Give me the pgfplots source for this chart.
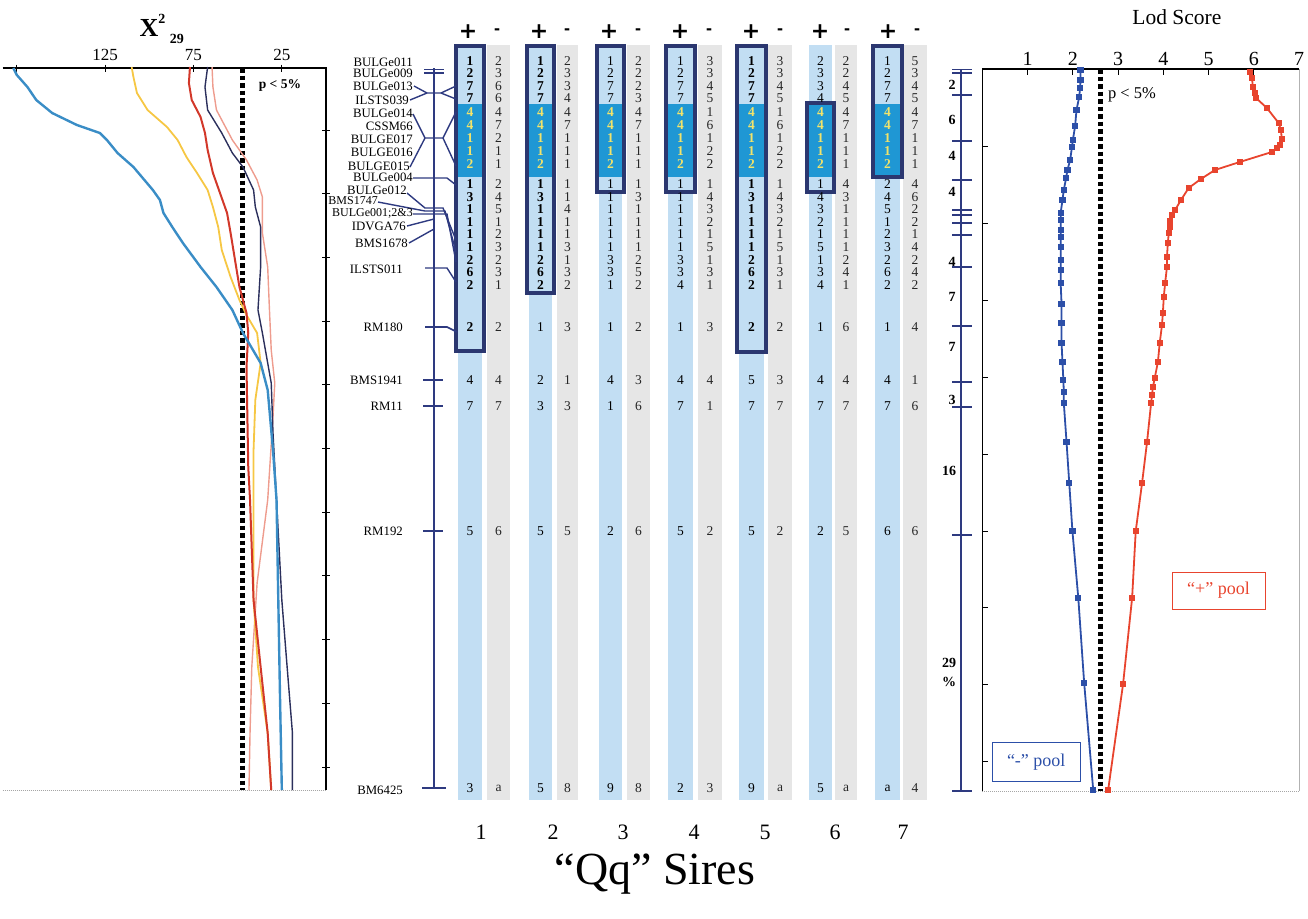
\documentclass[border=0pt]{standalone}
\usepackage{pgfplots}
\pgfplotsset{compat=1.18}
\usepackage{pgfplotstable}
\usepackage{fontspec}
\setmainfont{Liberation Serif}
\newfontfamily\sansf{Liberation Sans}
\newfontfamily\dejavu{DejaVu Sans}

\definecolor{navy}{HTML}{2E3A80}
\definecolor{boxnavy}{HTML}{2B3770}
\definecolor{stripblue}{HTML}{C2DEF3}
\definecolor{stripgray}{HTML}{E6E6E6}
\definecolor{hiblue}{HTML}{1F97D4}
\definecolor{hiyellow}{HTML}{F2E36A}
\definecolor{chiblue}{HTML}{3A8DC6}
\definecolor{chiyellow}{HTML}{F6C744}
\definecolor{chired}{HTML}{D2382A}
\definecolor{chinavy}{HTML}{2B2F5C}
\definecolor{chipink}{HTML}{EE9C8E}
\definecolor{lodred}{HTML}{E8442E}
\definecolor{lodblue}{HTML}{2C4FA8}

\newcommand{\fs}[1]{\fontsize{#1}{#1}\selectfont}

% haplotype table: top rows (outside the highlighted block)
\pgfplotstableread{
y     p1 m1 p2 m2 p3 m3 p4 m4 p5 m5 p6 m6 p7 m7
61    1  2  1  2  1  2  1  3  1  3  2  2  1  5
73.5  2  3  2  3  2  2  2  3  2  3  3  2  2  3
86    7  6  7  3  7  2  7  4  7  4  3  4  7  4
98.5  7  6  7  4  7  3  7  5  7  5  4  5  7  5
184   1  2  1  1  1  1  1  1  1  1  1  4  2  4
196.6 3  4  3  1  1  3  1  4  3  4  4  3  4  6
209.2 1  5  1  4  1  1  1  3  1  3  3  1  5  2
221.8 1  1  1  1  1  1  1  2  1  2  2  1  1  2
234.4 1  2  1  1  1  1  1  1  1  1  1  1  2  1
247   1  3  1  3  1  1  1  5  1  5  5  1  3  4
259.6 2  2  2  1  3  2  3  1  2  1  1  2  2  2
272.2 6  3  6  3  3  5  3  3  6  3  3  4  6  4
284.8 2  1  2  2  1  2  4  1  2  1  4  1  2  2
}\tabT
% highlighted block (rows 5-9)
\pgfplotstableread{
y   p1 m1 p2 m2 p3 m3 p4 m4 p5 m5 p6 m6 p7 m7
112 4  4  4  4  4  4  4  1  4  1  4  4  4  4
125 4  7  4  7  4  7  4  6  4  6  4  7  4  7
138 1  2  1  1  1  1  1  1  1  1  1  1  1  1
151 1  1  1  1  1  1  1  2  1  2  1  1  1  1
164 2  1  2  1  2  1  2  2  2  2  2  1  2  1
}\tabH
% RM180 and distal markers
\pgfplotstableread{
y     p1 m1 p2 m2 p3 m3 p4 m4 p5 m5 p6 m6 p7 m7
327   2  2  1  3  1  2  1  3  2  2  1  6  1  4
}\tabR
\pgfplotstableread{
y     p1 m1 p2 m2 p3 m3 p4 m4 p5 m5 p6 m6 p7 m7
380   4  4  2  1  4  3  4  4  5  3  4  4  4  1
406   7  7  3  3  1  6  7  1  7  7  7  7  7  6
531   5  6  5  5  2  6  5  2  5  2  2  5  6  6
788   3  a  5  8  9  8  2  3  9  a  5  a  a  4
}\tabL

\newcommand{\strip}[3]{\addplot[fill=#3, draw=none] coordinates {(#1,45) (#2,45) (#2,800) (#1,800)} -- cycle;}
\newcommand{\rect}[5]{\addplot[#5] coordinates {(#1,#3) (#2,#3) (#2,#4) (#1,#4)} -- cycle;}
\newcommand{\numcol}[5]{\addplot[draw=none, mark=none, nodes near coords, point meta=explicit symbolic,
  nodes near coords align={center},
  nodes near coords style={font=#5\fs{13.5}, text=#4, inner sep=0pt, anchor=center}]
  table[x expr=#3, y=y, meta=#2] {#1};}
% all 14 columns of one table: #1 table, #2..#8 font for + columns 1..7
\newcommand{\allcols}[8]{%
\numcol{#1}{p1}{470}{black}{#2}   \numcol{#1}{m1}{498.5}{black!85}{}%
\numcol{#1}{p2}{540.5}{black}{#3} \numcol{#1}{m2}{567.5}{black!85}{}%
\numcol{#1}{p3}{610.5}{black}{#4} \numcol{#1}{m3}{638.5}{black!85}{}%
\numcol{#1}{p4}{680.5}{black}{#5} \numcol{#1}{m4}{710}{black!85}{}%
\numcol{#1}{p5}{751.5}{black}{#6} \numcol{#1}{m5}{780}{black!85}{}%
\numcol{#1}{p6}{820.5}{black}{#7} \numcol{#1}{m6}{846}{black!85}{}%
\numcol{#1}{p7}{887.5}{black}{#8} \numcol{#1}{m7}{915}{black!85}{}}

\begin{document}
\begin{tikzpicture}[x=1pt,y=1pt]
\useasboundingbox (0pt,0pt) rectangle (1308pt,-918pt);

%================ LEFT: chi-square =================
\begin{axis}[
  at={(8pt,-68pt)}, anchor=north west,
  scale only axis, width=318pt, height=722pt,
  xmin=0, xmax=180, x dir=reverse,
  ymin=68, ymax=790, y dir=reverse,
  axis line style={draw=none},
  xtick={175,125,75,25}, xticklabels={,125,75,25},
  xtick pos=right, xticklabel pos=right,
  ytick={130,193.7,257.4,321,384.8,448.5,512,575.9,639.6,703.3,767},
  yticklabels={}, ytick pos=right,
  tick align=center, major tick length=7pt,
  every tick/.style={black, line width=0.9pt},
  ticklabel style={font=\fs{17}},
  clip=false,
]
\draw[black, line width=1.3pt] (axis cs:183,68) -- (axis cs:0,68) -- (axis cs:0,790);
\draw[gray!70, line width=1pt, densely dotted] (axis cs:183,790) -- (axis cs:0,790);
\addplot[black, line width=5pt, dash pattern=on 4.5pt off 3pt] coordinates {(47,68) (47,790)};
\addplot[chipink, line width=1.4pt] coordinates {(64.5,67)(64,87)(62,110)(53,140)(45,160)(39,180)(36,197)(36,233)(33,267)(32,310)(31,350)(29,383)(30,417)(33,500)(39,583)(42,667)(43,733)(43.6,790)};
\addplot[chinavy, line width=1.4pt] coordinates {(67,67)(68.5,87)(67,110)(59,133)(53,153)(47,167)(41,190)(40,207)(37,227)(37,267)(38.5,310)(36,333)(31,383)(30,433)(28,500)(25,600)(22,667)(19,733)(19,790)};
\addplot[chiyellow, line width=1.8pt] coordinates {(110,67)(109,77)(107,93)(101,110)(90,127)(84,140)(79,157)(73,173)(67,190)(64,207)(61,227)(59,250)(54,277)(49,300)(45,315)(39,333)(37,363)(40,400)(41,450)(41,533)(41,600)(38.5,667)(33,733)(31,790)};
\addplot[chired, line width=2pt] coordinates {(77,67)(77.6,83)(76,100)(71,117)(68.5,133)(67,150)(64,173)(60,193)(56,213)(54,233)(51.5,260)(49,287)(45,313)(44,333)(45,367)(44,467)(43,500)(41,600)(37,667)(33,733)(31,790)};
\addplot[chiblue, line width=2.4pt] coordinates {(177,68)(175,75)(169,87)(164,100)(155,113)(141,125)(128,133)(124,140)(118,153)(109,167)(98,190)(94,200)(92,213)(87,227)(81,243)(71,267)(62,287)(53,310)(47,333)(37,363)(33,390)(30,450)(28,500)(27,600)(26,700)(25,790)};
\node[anchor=west, font=\bfseries\fs{13.5}] at (axis cs:40,85) {p < 5\%};
\node[font=\bfseries\fs{26}] at (axis cs:93,29) {X\raisebox{1.1ex}{\fs{14}2}\,\raisebox{-0.6ex}{\fs{14}29}};
\end{axis}

%================ MIDDLE: haplotypes =================
\begin{axis}[
  at={(330pt,-68pt)}, anchor=north west,
  scale only axis, width=645pt, height=722pt,
  xmin=330, xmax=975, ymin=68, ymax=790, y dir=reverse,
  hide axis, clip=false,
]
% strips
\strip{458}{482}{stripblue}  \strip{487}{510}{stripgray}
\strip{529}{552}{stripblue}  \strip{557}{578}{stripgray}
\strip{599}{622}{stripblue}  \strip{627}{650}{stripgray}
\strip{668}{693}{stripblue}  \strip{698}{722}{stripgray}
\strip{739}{764}{stripblue}  \strip{768}{792}{stripgray}
\strip{809}{832}{stripblue}  \strip{835}{857}{stripgray}
\strip{875}{900}{stripblue}  \strip{903}{927}{stripgray}
% highlighted block
\rect{458}{482}{104}{177}{fill=hiblue, draw=none}
\rect{529}{552}{104}{177}{fill=hiblue, draw=none}
\rect{599}{622}{104}{177}{fill=hiblue, draw=none}
\rect{668}{693}{104}{177}{fill=hiblue, draw=none}
\rect{739}{764}{104}{177}{fill=hiblue, draw=none}
\rect{809}{832}{104}{177}{fill=hiblue, draw=none}
\rect{875}{900}{104}{177}{fill=hiblue, draw=none}
% numbers
\allcols{\tabT}{\bfseries}{\bfseries}{}{}{\bfseries}{}{}
\allcols{\tabR}{\bfseries}{}{}{}{\bfseries}{}{}
\allcols{\tabL}{}{}{}{}{}{}{}
\numcol{\tabH}{p1}{470}{hiyellow}{\bfseries}   \numcol{\tabH}{m1}{498.5}{black!85}{}
\numcol{\tabH}{p2}{540.5}{hiyellow}{\bfseries} \numcol{\tabH}{m2}{567.5}{black!85}{}
\numcol{\tabH}{p3}{610.5}{hiyellow}{\bfseries} \numcol{\tabH}{m3}{638.5}{black!85}{}
\numcol{\tabH}{p4}{680.5}{hiyellow}{\bfseries} \numcol{\tabH}{m4}{710}{black!85}{}
\numcol{\tabH}{p5}{751.5}{hiyellow}{\bfseries} \numcol{\tabH}{m5}{780}{black!85}{}
\numcol{\tabH}{p6}{820.5}{hiyellow}{\bfseries} \numcol{\tabH}{m6}{846}{black!85}{}
\numcol{\tabH}{p7}{887.5}{hiyellow}{\bfseries} \numcol{\tabH}{m7}{915}{black!85}{}
% boxes
\rect{456}{484}{46}{351}{draw=boxnavy, line width=3.5pt}
\rect{527}{554}{46}{293}{draw=boxnavy, line width=3.5pt}
\rect{597}{624}{46}{192}{draw=boxnavy, line width=3.5pt}
\rect{666}{695}{46}{192}{draw=boxnavy, line width=3.5pt}
\rect{737}{766}{46}{352}{draw=boxnavy, line width=3.5pt}
\rect{807}{834}{103}{192}{draw=boxnavy, line width=3.5pt}
\rect{873}{902}{46}{177}{draw=boxnavy, line width=3.5pt}
% chromosome map (middle)
\addplot[navy, line width=2pt] coordinates {(434,68) (434,788)};
\addplot[navy, line width=1.6pt] coordinates {(424,69.5) (444,69.5)};
\addplot[navy, line width=1.6pt] coordinates {(424,73) (444,73)};
\addplot[navy, line width=1.4pt] coordinates {(414,86) (427,93) (441,93) (456,86)};
\addplot[navy, line width=1.4pt] coordinates {(410,100) (427,93)};
\addplot[navy, line width=1.4pt] coordinates {(441,93) (456,99)};
\addplot[navy, line width=1.4pt] coordinates {(413,114) (425,138) (443,138) (456,112)};
\addplot[navy, line width=1.4pt] coordinates {(410,167) (425,138)};
\addplot[navy, line width=1.4pt] coordinates {(443,138) (456,166)};
\addplot[navy, line width=1.4pt] coordinates {(413,178) (447,178) (456,185)};
\addplot[navy, line width=1.4pt] coordinates {(407,193) (425,208) (443,208) (456,240)};
\addplot[navy, line width=1.4pt] coordinates {(378,202) (425,211) (445,211) (456,252)};
\addplot[navy, line width=1.4pt] coordinates {(413,214) (447,214) (456,262)};
\addplot[navy, line width=1.4pt] coordinates {(407,226) (434,219)};
\addplot[navy, line width=1.4pt] coordinates {(409,243) (434,229)};
\addplot[navy, line width=1.4pt] coordinates {(425,268) (447,268) (456,282)};
\addplot[navy, line width=1.6pt] coordinates {(425,327) (447,327) (457,332)};
\addplot[navy, line width=1.6pt] coordinates {(423,380) (443,380)};
\addplot[navy, line width=1.6pt] coordinates {(423,406) (443,406)};
\addplot[navy, line width=1.6pt] coordinates {(423,531) (443,531)};
\addplot[navy, line width=1.6pt] coordinates {(422,788) (446,788)};
% marker names
\begin{scope}[every node/.style={anchor=east, font=\fs{12.8}, inner sep=0pt}]
\node at (axis cs:413,62) {BULGe011};
\node at (axis cs:413,73.5) {BULGe009};
\node at (axis cs:413,86) {BULGe013};
\node at (axis cs:409,100) {ILSTS039};
\node at (axis cs:413,113) {BULGe014};
\node at (axis cs:413,126) {CSSM66};
\node at (axis cs:413,139) {BULGE017};
\node at (axis cs:413,152.5) {BULGE016};
\node at (axis cs:410,166) {BULGE015};
\node at (axis cs:413,177.5) {BULGe004};
\node at (axis cs:407,190.5) {BULGe012};
\node[font=\fs{12}] at (axis cs:378,200.5) {BMS1747};
\node[font=\fs{12}] at (axis cs:413,213.5) {BULGe001;2\&3};
\node at (axis cs:406,226.5) {IDVGA76};
\node at (axis cs:408,243) {BMS1678};
\node at (axis cs:403,269) {ILSTS011};
\node at (axis cs:403,327) {RM180};
\node at (axis cs:403,380) {BMS1941};
\node at (axis cs:403,406) {RM11};
\node at (axis cs:403,531) {RM192};
\node at (axis cs:403,790) {BM6425};
\end{scope}
% headers and footers
\begin{scope}[every node/.style={font=\dejavu\bfseries\fs{22}}]
\node at (axis cs:468,32) {+}; \node at (axis cs:539,32) {+}; \node at (axis cs:609,32) {+};
\node at (axis cs:680,32) {+}; \node at (axis cs:751,32) {+}; \node at (axis cs:820,32) {+};
\node at (axis cs:888,32) {+};
\end{scope}
\begin{scope}[every node/.style={font=\sansf\bfseries\fs{18}}]
\node at (axis cs:497,32) {-}; \node at (axis cs:567,32) {-}; \node at (axis cs:638,32) {-};
\node at (axis cs:709,32) {-}; \node at (axis cs:780,32) {-}; \node at (axis cs:847,32) {-};
\node at (axis cs:917,32) {-};
\end{scope}
\begin{scope}[every node/.style={font=\fs{22}}]
\node at (axis cs:481,832) {1}; \node at (axis cs:553,832) {2}; \node at (axis cs:623,832) {3};
\node at (axis cs:694,832) {4}; \node at (axis cs:765,832) {5}; \node at (axis cs:835,832) {6};
\node at (axis cs:903,832) {7};
\end{scope}
\node[font=\fs{46}] at (axis cs:655,874) {“Qq” Sires};
% chromosome map (right)
\addplot[navy, line width=2pt] coordinates {(961,69) (961,791)};
\addplot[navy, line width=1.6pt] coordinates {(952,69.5)(972,69.5)};
\addplot[navy, line width=1.6pt] coordinates {(952,73)(972,73)};
\addplot[navy, line width=1.6pt] coordinates {(952,95)(972,95)};
\addplot[navy, line width=1.6pt] coordinates {(952,141)(972,141)};
\addplot[navy, line width=1.6pt] coordinates {(952,180)(972,180)};
\addplot[navy, line width=1.6pt] coordinates {(952,210)(972,210)};
\addplot[navy, line width=1.6pt] coordinates {(952,215)(972,215)};
\addplot[navy, line width=1.6pt] coordinates {(952,223)(972,223)};
\addplot[navy, line width=1.6pt] coordinates {(952,235)(972,235)};
\addplot[navy, line width=1.6pt] coordinates {(952,267)(972,267)};
\addplot[navy, line width=1.6pt] coordinates {(952,326)(972,326)};
\addplot[navy, line width=1.6pt] coordinates {(952,382)(972,382)};
\addplot[navy, line width=1.6pt] coordinates {(952,407)(972,407)};
\addplot[navy, line width=1.6pt] coordinates {(952,535)(972,535)};
\addplot[navy, line width=1.6pt] coordinates {(952,791)(972,791)};
\begin{scope}[every node/.style={font=\bfseries\fs{14}, inner sep=0pt}]
\node at (axis cs:952,85) {2};
\node at (axis cs:952,120) {6};
\node at (axis cs:952,156) {4};
\node at (axis cs:952,192) {4};
\node at (axis cs:952,262) {4};
\node at (axis cs:952,297) {7};
\node at (axis cs:952,347) {7};
\node at (axis cs:952,400) {3};
\node at (axis cs:949,471) {16};
\node at (axis cs:949,663) {29};
\node at (axis cs:949,682) {\%};
\end{scope}
\end{axis}

%================ RIGHT: LOD score =================
\begin{axis}[
  at={(982.4pt,-69pt)}, anchor=north west,
  scale only axis, width=316.6pt, height=722pt,
  xmin=0, xmax=7, ymin=69, ymax=791, y dir=reverse,
  axis line style={draw=none},
  xtick={1,2,3,4,5,6,7}, xtick pos=right, xticklabel pos=right,
  ytick={146,223,300,377,454,531,607,684,761}, yticklabels={}, ytick pos=left,
  tick align=inside, major tick length=6pt,
  every tick/.style={black, line width=0.9pt},
  ticklabel style={font=\fs{20}},
  /pgf/number format/assume math mode=true,
  clip=false,
]
\draw[black, line width=1.2pt] (axis cs:0,791) -- (axis cs:0,69) -- (axis cs:7,69);
\draw[gray!60, line width=0.8pt] (axis cs:7,69) -- (axis cs:7,791);
\draw[gray!70, line width=1pt, densely dotted] (axis cs:0,791) -- (axis cs:7,791);
\addplot[black, line width=5pt, dash pattern=on 4.5pt off 3pt] coordinates {(2.6,69) (2.6,791)};
\addplot[lodblue, line width=1.8pt, mark=square*, mark size=2.2pt, mark options={solid}] coordinates {(2.17,70)(2.17,80)(2.16,88)(2.14,97)(2.08,110)(2.05,126)(2.00,140)(1.98,147)(1.94,160)(1.88,170)(1.85,178)(1.80,190)(1.77,200)(1.73,213)(1.73,220)(1.73,230)(1.73,237)(1.73,247)(1.73,260)(1.73,270)(1.73,283)(1.75,304)(1.75,323)(1.75,343)(1.77,362)(1.79,380)(1.80,392)(1.80,403)(1.86,442)(1.92,483)(1.99,531)(2.12,598)(2.25,683)(2.45,790)};
\addplot[lodred, line width=1.8pt, mark=square*, mark size=2.2pt, mark options={solid}] coordinates {(5.91,72)(5.96,78)(5.98,87)(6.02,93)(6.05,98)(6.29,108)(6.55,123)(6.60,130)(6.62,139)(6.58,145)(6.51,148)(6.40,152)(5.69,162)(5.14,170)(4.83,179)(4.56,188)(4.39,200)(4.26,210)(4.19,215)(4.15,221)(4.15,227)(4.12,233)(4.10,243)(4.08,257)(4.08,267)(4.04,283)(4.01,297)(3.99,313)(3.97,325)(3.92,343)(3.88,362)(3.81,378)(3.77,387)(3.75,395)(3.73,403)(3.64,442)(3.53,483)(3.39,531)(3.31,598)(3.11,684)(2.78,790)};
\node[anchor=west, font=\fs{16.5}] at (axis cs:2.7,95) {p < 5\%};
\node[font=\fs{21.5}] at (axis cs:4.3,17) {Lod Score};
\node[draw=lodblue, line width=1pt, text=lodblue, font=\fs{18}, minimum width=88pt, minimum height=39pt] at (axis cs:1.19,762) {“-” pool};
\node[draw=lodred, line width=1pt, text=lodred, font=\fs{18}, minimum width=93pt, minimum height=37pt] at (axis cs:5.22,590.5) {“+” pool};
\end{axis}
\end{tikzpicture}
\end{document}
